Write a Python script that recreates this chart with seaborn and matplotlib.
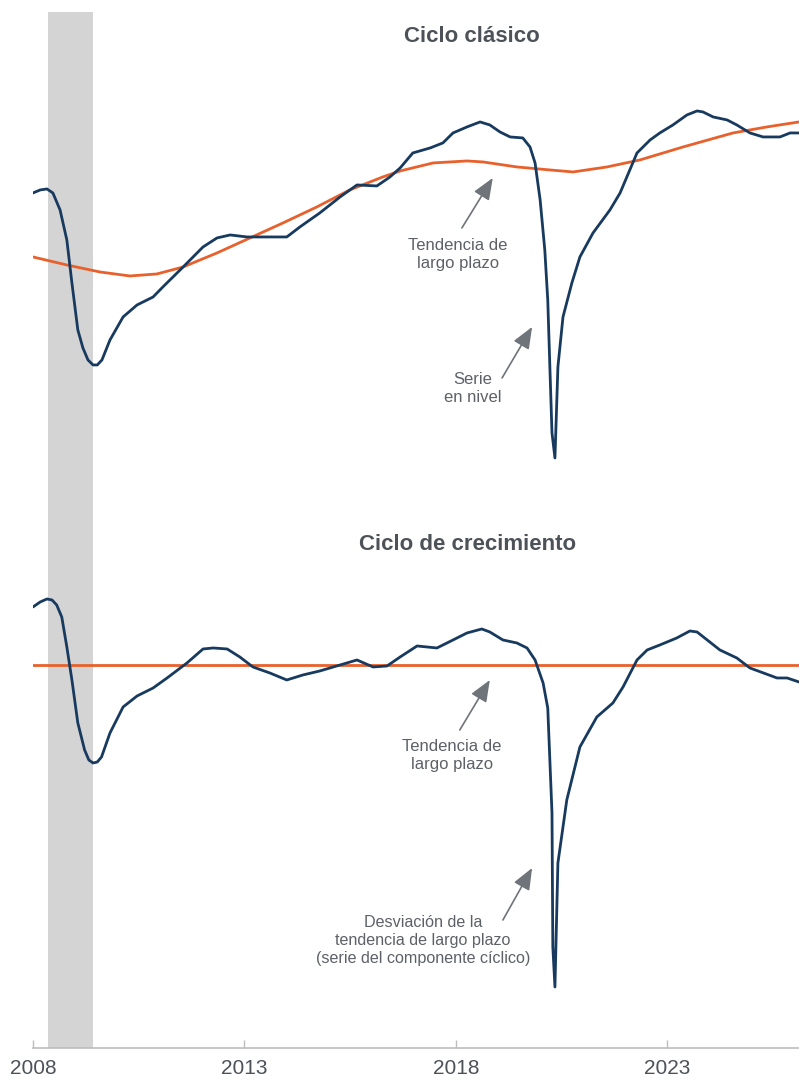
import matplotlib
matplotlib.use("Agg")
import matplotlib.pyplot as plt
import seaborn as sns

# Serie en nivel (indice, sin escala) y su tendencia de largo plazo
years_level = [2008.00, 2008.17, 2008.33, 2008.47, 2008.64, 2008.80, 2008.92, 2009.06, 2009.18, 2009.30,
               2009.42, 2009.52, 2009.63, 2009.82,
               2010.13, 2010.46, 2010.84, 2011.07, 2011.55, 2012.02, 2012.35, 2012.66, 2013.06, 2014.00,
               2014.31, 2014.78, 2015.26, 2015.66, 2016.13, 2016.44, 2016.68, 2016.98, 2017.39, 2017.69,
               2017.93, 2018.26, 2018.57, 2018.80, 2019.04, 2019.28, 2019.58, 2019.75, 2019.87, 2019.99,
               2020.10, 2020.17, 2020.22, 2020.27, 2020.34, 2020.41, 2020.53, 2020.74, 2020.93, 2021.24,
               2021.64, 2021.88, 2022.11, 2022.28, 2022.59, 2022.82, 2023.13, 2023.46, 2023.70, 2023.84,
               2024.08, 2024.41, 2024.64, 2024.95, 2025.26, 2025.66, 2025.90, 2026.11]
level = [307, 310, 311, 307, 290, 260, 217, 170, 152, 140,
         135, 135, 140, 160,
         183, 195, 203, 213, 233, 253, 262, 265, 263, 263,
         273, 287, 303, 315, 314, 323, 332, 347, 352, 357,
         367, 373, 378, 375, 368, 363, 362, 353, 337, 300,
         250, 200, 133, 67, 42, 133, 183, 217, 243, 267,
         290, 307, 330, 347, 360, 367, 375, 385, 389, 388,
         383, 380, 375, 367, 363, 363, 367, 367]

years_trend = [2008.00, 2008.80, 2009.58, 2010.29, 2010.93, 2011.55, 2012.35, 2013.13, 2013.91, 2014.71,
               2015.49, 2016.27, 2016.68, 2017.46, 2018.26, 2018.64, 2019.44, 2020.22, 2020.77, 2021.57,
               2022.35, 2023.37, 2024.55, 2025.35, 2026.11]
trend = [243, 235, 228, 224, 226, 233, 247, 262, 277, 293,
         310, 323, 329, 337, 339, 338, 333, 330, 328, 333,
         340, 353, 367, 373, 378]

# Componente ciclico (desviacion de la tendencia)
years_cycle = [2008.00, 2008.17, 2008.33, 2008.45, 2008.56, 2008.68, 2008.80, 2008.92, 2009.06, 2009.22,
               2009.32, 2009.42, 2009.52, 2009.62,
               2009.82, 2010.13, 2010.46, 2010.84, 2011.17, 2011.64, 2012.02, 2012.26, 2012.59, 2012.89,
               2013.20, 2013.60, 2014.00, 2014.38, 2014.78, 2015.26, 2015.66, 2016.04, 2016.37, 2016.68,
               2017.08, 2017.55, 2017.93, 2018.26, 2018.61, 2018.80, 2019.11, 2019.44, 2019.68, 2019.87,
               2020.06, 2020.17, 2020.27, 2020.29, 2020.34, 2020.41, 2020.62, 2020.93, 2021.33, 2021.71,
               2021.95, 2022.28, 2022.52, 2022.82, 2023.22, 2023.53, 2023.70, 2024.24, 2024.64, 2024.95,
               2025.59, 2025.83, 2026.11]
cycle = [58, 63, 66, 65, 60, 48, 18, -15, -58, -85,
         -95, -98, -97, -92,
         -68, -42, -31, -23, -13, 2, 16, 17, 16, 8,
         -2, -8, -15, -10, -6, 0, 5, -2, -1, 8,
         19, 17, 25, 32, 36, 33, 25, 22, 17, 5,
         -18, -43, -148, -282, -322, -198, -135, -82, -52, -38,
         -22, 5, 15, 20, 27, 34, 33, 15, 7, -3,
         -13, -13, -17]
cycle_trend = [0, 0]
years_cycle_trend = [2008.00, 2026.11]

recession = (2008.35, 2009.42)
tick_years = [2008, 2013, 2018, 2023]

navy = "#173a5e"
orange = "#e8612c"
grey_txt = "#5d6167"
arrow_col = "#6f747a"

sns.set_style("white")
plt.rcParams["font.family"] = ["Liberation Sans", "DejaVu Sans"]

fig = plt.figure(figsize=(7.99, 10.85), dpi=100)
ax1 = fig.add_axes([0.0413, 0.5392, 0.9587, 0.4498])
ax2 = fig.add_axes([0.0413, 0.0341, 0.9587, 0.5051])

for ax in (ax1, ax2):
    ax.axvspan(*recession, color="#d4d4d4", lw=0, zorder=0)
    ax.set_xlim(2008, 2026.11)
    for s in ax.spines.values():
        s.set_visible(False)
    ax.set_yticks([])
    ax.set_xlabel("")
    ax.set_ylabel("")

# Ciclo clasico
sns.lineplot(x=years_trend, y=trend, ax=ax1, color=orange, linewidth=2.0)
sns.lineplot(x=years_level, y=level, ax=ax1, color=navy, linewidth=2.0)
ax1.set_ylim(0, 488)
ax1.set_xticks([])

# Ciclo de crecimiento
sns.lineplot(x=years_cycle_trend, y=cycle_trend, ax=ax2, color=orange, linewidth=2.0)
sns.lineplot(x=years_cycle, y=cycle, ax=ax2, color=navy, linewidth=2.0)
ax2.set_ylim(-383, 165)
ax2.spines["bottom"].set_visible(True)
ax2.spines["bottom"].set_color("#bdbdbd")
ax2.spines["bottom"].set_linewidth(1.2)
ax2.set_xticks(tick_years)
ax2.set_xticklabels([str(y) for y in tick_years])
ax2.tick_params(axis="x", direction="in", length=6, width=1, color="#bdbdbd",
                labelsize=15, labelcolor="#4d5259", pad=8, bottom=True)

arrow = dict(arrowstyle="-|>,head_length=1.1,head_width=0.45", color=arrow_col,
             lw=1.2, mutation_scale=12, shrinkA=0, shrinkB=0)
txt = dict(ha="center", va="center", fontsize=12, color=grey_txt, linespacing=1.25)

ax1.annotate("", xy=(2018.87, 322), xytext=(2018.14, 272), arrowprops=arrow)
ax1.text(2018.05, 245, "Tendencia de\nlargo plazo", **txt)
ax1.annotate("", xy=(2019.80, 173), xytext=(2019.09, 122), arrowprops=arrow)
ax1.text(2018.40, 111, "Serie\nen nivel", **txt)

ax2.annotate("", xy=(2018.80, -15), xytext=(2018.09, -65), arrowprops=arrow)
ax2.text(2017.91, -91, "Tendencia de\nlargo plazo", **txt)
ax2.annotate("", xy=(2019.80, -203), xytext=(2019.11, -255), arrowprops=arrow)
ax2.text(2017.22, -276, "Desviación de la\ntendencia de largo plazo\n(serie del componente cíclico)",
         **dict(txt, fontsize=11.6))

fig.text(0.591, 0.966, "Ciclo clásico", ha="center", va="center", fontsize=16,
         fontweight="bold", color="#4d5259")
fig.text(0.585, 0.498, "Ciclo de crecimiento", ha="center", va="center", fontsize=16,
         fontweight="bold", color="#4d5259")

fig.savefig("out.png", dpi=100, facecolor="white")
